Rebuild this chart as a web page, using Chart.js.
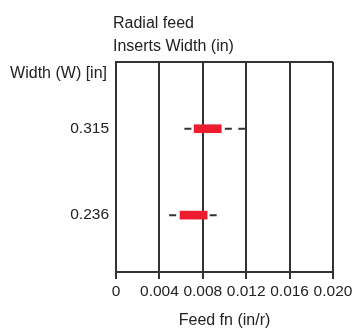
<!DOCTYPE html>
<html>
<head>
<meta charset="utf-8">
<script src="https://cdn.jsdelivr.net/npm/chart.js@4"></script>
<style>
  html, body { margin: 0; padding: 0; background: #fff; }
  #wrap { width: 357px; height: 333px; position: relative; }
</style>
</head>
<body>
<div id="wrap"><canvas id="chart"></canvas></div>
<script>
// Radial feed vs insert width

const FONT = "'Liberation Sans', Arial, sans-serif";
const INK = '#333333';
const RED = '#ed1c2e';

const widthLabels = ['0.315', '0.236'];
const widths = [0.315, 0.236];
const feedLow = [0.0072, 0.0059];     // recommended range (red bar)
const feedHigh = [0.0097, 0.0084];
const feedMin = [0.0063, 0.0049];     // extended range (dashed)
const feedMax = [0.0119, 0.0098];
const xTicks = [0, 0.004, 0.008, 0.012, 0.016, 0.020];
const xTickLabels = ['0', '0.004', '0.008', '0.012', '0.016', '0.020'];

const Y_MIN = 0.184;
const Y_MAX = 0.376;

// --- Titles drawn beside the plot area ---

const titlesPlugin = {
  id: 'titles',
  afterDraw(chart) {
    const { ctx, chartArea } = chart;
    ctx.save();
    ctx.fillStyle = '#222';
    ctx.font = `16px ${FONT}`;
    ctx.textBaseline = 'alphabetic';
    ctx.textAlign = 'left';
    ctx.fillText('Radial feed', chartArea.left - 3, 28);
    ctx.fillText('Inserts Width (in)', chartArea.left - 3, 51);
    ctx.textAlign = 'right';
    ctx.fillText('Width (W) [in]', chartArea.left - 9, 78);
    ctx.restore();
  },
};

// --- Datasets ---

const bars = {
  type: 'bar',
  label: 'feed',
  data: widths.map((w, i) => ({ y: w, x: [feedLow[i], feedHigh[i]] })),
  backgroundColor: RED,
  borderWidth: 0,
  borderSkipped: false,
  barThickness: 8,
  order: 0,
};

const ranges = widths.map((w, i) => ({
  type: 'line',
  label: 'range ' + widthLabels[i],
  data: [{ x: feedMin[i], y: w }, { x: feedMax[i], y: w }],
  borderColor: INK,
  borderWidth: 2,
  borderDash: [7, 6.5],
  pointRadius: 0,
  fill: false,
  order: 1,
}));

new Chart(document.getElementById('chart'), {
  data: { datasets: [bars, ...ranges] },
  plugins: [titlesPlugin],
  options: {
    indexAxis: 'y',
    responsive: true,
    maintainAspectRatio: false,
    animation: false,
    layout: { padding: { top: 62, right: 24, left: 0, bottom: 0 } },
    plugins: {
      legend: { display: false },
      tooltip: { enabled: false },
    },
    scales: {
      x: {
        type: 'linear',
        min: 0,
        max: 0.020,
        z: 1,
        afterBuildTicks(scale) {
          scale.ticks = xTicks.map(v => ({ value: v }));
        },
        afterFit(scale) { scale.height = 61; },
        ticks: {
          color: '#222',
          font: { family: FONT, size: 15.5 },
          padding: 3,
          maxRotation: 0,
          autoSkip: false,
          callback: (v, i) => xTickLabels[i],
        },
        grid: {
          color: INK,
          lineWidth: 2,
          drawTicks: true,
          tickLength: 7,
          tickColor: INK,
        },
        border: { display: true, color: INK, width: 2 },
        title: {
          display: true,
          text: 'Feed fn (in/r)',
          color: '#222',
          font: { family: FONT, size: 16 },
          padding: { top: 0, bottom: 3 },
        },
      },
      y: {
        type: 'linear',
        min: Y_MIN,
        max: Y_MAX,
        offset: false,
        afterBuildTicks(scale) {
          scale.ticks = [Y_MIN, ...widths, Y_MAX].map(v => ({ value: v }));
        },
        afterFit(scale) { scale.width = 116; },
        ticks: {
          color: '#222',
          font: { family: FONT, size: 15.5 },
          padding: 7,
          autoSkip: false,
          callback: (v) => {
            const i = widths.indexOf(v);
            return i >= 0 ? widthLabels[i] : '';
          },
        },
        grid: {
          offset: false,
          drawTicks: false,
          lineWidth: 2,
          color: (c) => (c.tick && c.tick.value === Y_MAX ? INK : 'rgba(0,0,0,0)'),
        },
        border: { display: true, color: INK, width: 2 },
      },
    },
  },
});
</script>
</body>
</html>
